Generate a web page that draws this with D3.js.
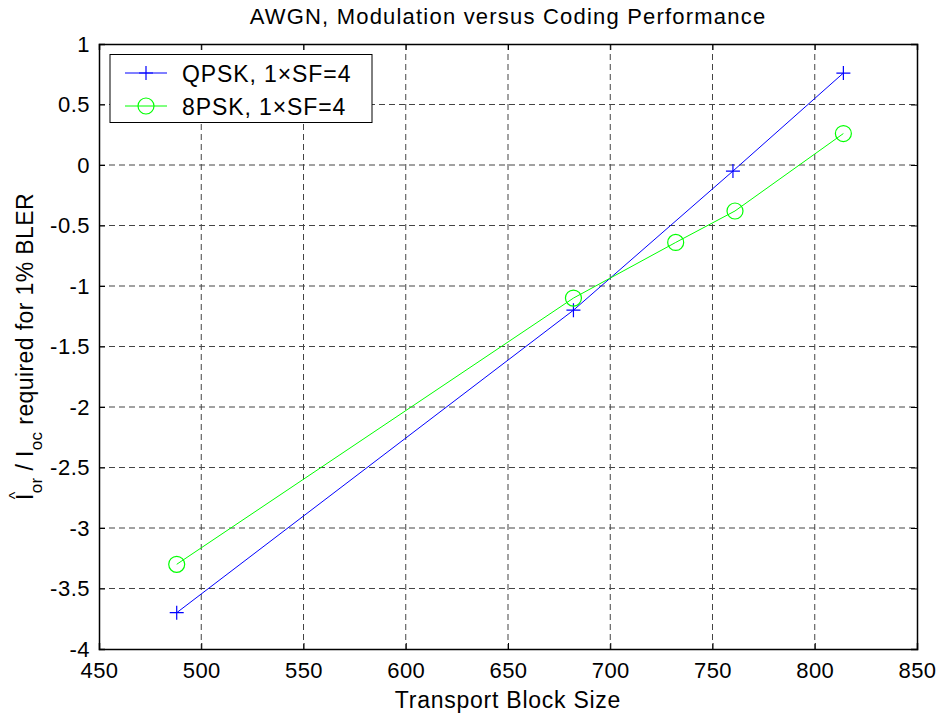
<!DOCTYPE html>
<html>
<head>
<meta charset="utf-8">
<script src="https://cdn.jsdelivr.net/npm/d3@7"></script>
<style>
  body { margin: 0; background: #fff; }
  text { font-family: "Liberation Sans", Arial, sans-serif; fill: #000; }
</style>
</head>
<body>
<script>
// Données
const qpskSize = [488, 682, 760, 814];
const qpskSnr = [-3.70, -1.20, -0.05, 0.76];
const psk8Size = [488, 682, 732, 761, 814];
const psk8Snr = [-3.30, -1.10, -0.64, -0.38, 0.26];
const xTicks = [450, 500, 550, 600, 650, 700, 750, 800, 850];
const yTicks = [1, 0.5, 0, -0.5, -1, -1.5, -2, -2.5, -3, -3.5, -4];
const seriesNames = ["QPSK, 1\u00D7SF=4", "8PSK, 1\u00D7SF=4"];

const width = 940, height = 715;
const margin = { top: 44, right: 23, bottom: 66, left: 99 };

const svg = d3.select("body").append("svg")
    .attr("width", width)
    .attr("height", height);

const x = d3.scaleLinear().domain([450, 850]).range([margin.left, width - margin.right]);
const y = d3.scaleLinear().domain([-4, 1]).range([height - margin.bottom, margin.top]);

// Grille en pointillés
const grid = svg.append("g");
grid.selectAll("line.vx")
    .data(xTicks.slice(1, -1))
    .enter().append("line")
    .attr("x1", d => x(d)).attr("x2", d => x(d))
    .attr("y1", y(1)).attr("y2", y(-4))
    .attr("stroke", "#444").attr("stroke-width", 1)
    .attr("stroke-dasharray", "6,4");
grid.selectAll("line.hy")
    .data(yTicks.slice(1, -1))
    .enter().append("line")
    .attr("x1", x(450)).attr("x2", x(850))
    .attr("y1", d => y(d)).attr("y2", d => y(d))
    .attr("stroke", "#444").attr("stroke-width", 1)
    .attr("stroke-dasharray", "6,4");

// Axes (ticks vers l'intérieur, style MATLAB)
const fmt = d => String(d);
const tickText = g => g.selectAll("text")
    .attr("font-size", 22)
    .attr("letter-spacing", 0.5)
    .style("font-family", "Liberation Sans, Arial, sans-serif");
svg.append("g")
    .attr("transform", `translate(0,${y(-4)})`)
    .call(d3.axisBottom(x).tickValues(xTicks).tickSize(-6).tickPadding(13).tickFormat(fmt))
    .call(tickText);
svg.append("g")
    .attr("transform", `translate(0,${y(1)})`)
    .call(d3.axisTop(x).tickValues(xTicks).tickSize(-6).tickFormat(""));
svg.append("g")
    .attr("transform", `translate(${x(450)},0)`)
    .call(d3.axisLeft(y).tickValues(yTicks).tickSize(-6).tickPadding(9).tickFormat(fmt))
    .call(tickText);
svg.append("g")
    .attr("transform", `translate(${x(850)},0)`)
    .call(d3.axisRight(y).tickValues(yTicks).tickSize(-6).tickFormat(""));
svg.selectAll(".domain").attr("stroke", "#000").attr("stroke-width", 1.5);
svg.selectAll(".tick line").attr("stroke", "#000");

// Courbes
const line = d3.line().x(d => x(d[0])).y(d => y(d[1]));
const qpsk = qpskSize.map((s, i) => [s, qpskSnr[i]]);
const psk8 = psk8Size.map((s, i) => [s, psk8Snr[i]]);

svg.append("path").datum(qpsk).attr("d", line)
    .attr("fill", "none").attr("stroke", "#0000ff").attr("stroke-width", 1);
svg.append("path").datum(psk8).attr("d", line)
    .attr("fill", "none").attr("stroke", "#00ff00").attr("stroke-width", 1);

function plus(g, cx, cy) {
    g.append("path")
        .attr("d", `M${cx - 7},${cy}H${cx + 7}M${cx},${cy - 7}V${cy + 7}`)
        .attr("stroke", "#0000ff").attr("stroke-width", 1.2).attr("fill", "none");
}
function ring(g, cx, cy) {
    g.append("circle").attr("cx", cx).attr("cy", cy).attr("r", 8)
        .attr("stroke", "#00ff00").attr("stroke-width", 1.2).attr("fill", "none");
}
const marks = svg.append("g");
qpsk.forEach(d => plus(marks, x(d[0]), y(d[1])));
psk8.forEach(d => ring(marks, x(d[0]), y(d[1])));

// Titre et libellés
svg.append("text")
    .attr("x", (x(450) + x(850)) / 2).attr("y", 24)
    .attr("text-anchor", "middle").attr("font-size", 22)
    .attr("letter-spacing", 1.2)
    .text("AWGN, Modulation versus Coding Performance");

svg.append("text")
    .attr("x", (x(450) + x(850)) / 2).attr("y", 708)
    .attr("text-anchor", "middle").attr("font-size", 23)
    .attr("letter-spacing", 0.75)
    .text("Transport Block Size");

const yl = svg.append("text")
    .attr("transform", `translate(33,${(y(1) + y(-4)) / 2}) rotate(-90)`)
    .attr("text-anchor", "middle").attr("font-size", 23)
    .attr("letter-spacing", 0.4);
yl.append("tspan").text("I");
yl.append("tspan").attr("dx", -6).attr("dy", -12).attr("font-size", 16).text("^");
yl.append("tspan").attr("dx", -2).attr("dy", 21).attr("font-size", 17).text("or");
yl.append("tspan").attr("dy", -9).text(" / I");
yl.append("tspan").attr("dy", 9).attr("font-size", 17).text("oc");
yl.append("tspan").attr("dy", -9).text(" required for 1% BLER");

// Légende
const leg = svg.append("g");
leg.append("rect")
    .attr("x", 110).attr("y", 54.5).attr("width", 262).attr("height", 68)
    .attr("fill", "#fff").attr("stroke", "#000").attr("stroke-width", 1);
const rows = [73, 106];
const colors = ["#0000ff", "#00ff00"];
rows.forEach((ry, i) => {
    leg.append("line").attr("x1", 125).attr("x2", 167).attr("y1", ry).attr("y2", ry)
        .attr("stroke", colors[i]).attr("stroke-width", 1);
    if (i === 0) plus(leg, 146, ry); else ring(leg, 146, ry);
    leg.append("text").attr("x", 182).attr("y", ry + 8.5)
        .attr("font-size", 23).attr("letter-spacing", 0.9)
        .text(seriesNames[i]);
});
</script>
</body>
</html>
